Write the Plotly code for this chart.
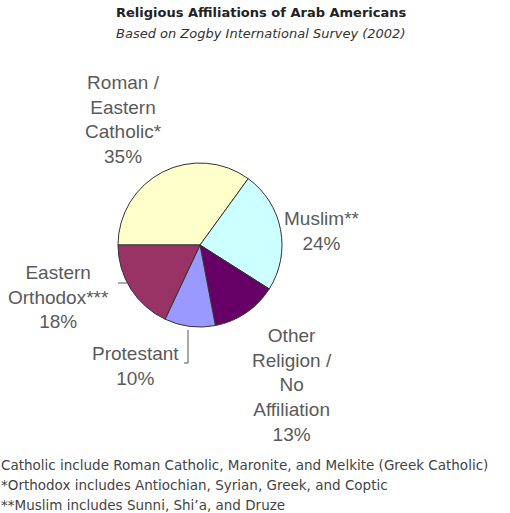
import plotly.graph_objects as go

W, H = 510, 513

labels = ["Roman /<br>Eastern<br>Catholic*", "Muslim**", "Other<br>Religion /<br>No<br>Affiliation",
          "Protestant", "Eastern<br>Orthodox***"]
values = [35, 24, 13, 10, 18]
colors = ["#FFFFCC", "#CCFFFF", "#660066", "#9999FF", "#993366"]
# label centre positions in pixels (x, y of first line)
label_pos = [(123, 83), (322, 219), (292, 336), (135, 354), (58, 273)]

title = "Religious Affiliations of Arab Americans"
subtitle = "Based on Zogby International Survey (2002)"
footnotes = ["Catholic include Roman Catholic, Maronite, and Melkite (Greek Catholic)",
             "*Orthodox includes Antiochian, Syrian, Greek, and Coptic",
             "**Muslim includes Sunni, Shi\u2019a, and Druze"]

def px(x):
    return x / W

def py(y):
    return 1 - y / H

cx, cy, r = 200, 245, 82

fig = go.Figure(go.Pie(
    labels=[l.replace("<br>", " ") for l in labels],
    values=values,
    sort=False,
    direction="clockwise",
    rotation=-90,
    textinfo="none",
    hoverinfo="label+percent",
    marker=dict(colors=colors, line=dict(color="#333333", width=1)),
    domain=dict(x=[px(cx - r), px(cx + r)], y=[py(cy + r), py(cy - r)]),
    showlegend=False,
))

anns = []
anns.append(dict(text="<b>" + title + "</b>", x=px(261), y=py(12), xref="paper", yref="paper",
                 showarrow=False, font=dict(family="DejaVu Sans", size=13, color="#222222"),
                 xanchor="center", yanchor="middle"))
anns.append(dict(text="<i>" + subtitle + "</i>", x=px(260), y=py(33), xref="paper", yref="paper",
                 showarrow=False, font=dict(family="DejaVu Sans", size=13, color="#333333"),
                 xanchor="center", yanchor="middle"))
for lab, v, (lx, ly) in zip(labels, values, label_pos):
    anns.append(dict(text=lab + "<br>" + f"{v}%", x=px(lx), y=py(ly - 13), xref="paper", yref="paper",
                     showarrow=False, align="center",
                     font=dict(family="Liberation Sans", size=19, color="#5a5a5a"),
                     xanchor="center", yanchor="top"))
for i, f in enumerate(footnotes):
    anns.append(dict(text=f, x=0, y=py(465 + i * 20), xref="paper", yref="paper",
                     showarrow=False, font=dict(family="DejaVu Sans", size=13.5, color="#444444"),
                     xanchor="left", yanchor="middle", borderpad=0))

shapes = [
    dict(type="line", xref="paper", yref="paper", x0=px(118), y0=py(283), x1=px(127), y1=py(283),
         line=dict(color="#555555", width=1)),
    dict(type="path", xref="paper", yref="paper",
         path=f"M {px(188)} {py(330)} L {px(188)} {py(363)} L {px(184)} {py(363)}",
         line=dict(color="#555555", width=1)),
]

fig.update_layout(width=W, height=H, margin=dict(l=0, r=0, t=0, b=0),
                  paper_bgcolor="white", plot_bgcolor="white",
                  annotations=anns, shapes=shapes)
fig.write_html("out.html", config={"displayModeBar": False},
               post_script="document.body.style.margin='0px';")
